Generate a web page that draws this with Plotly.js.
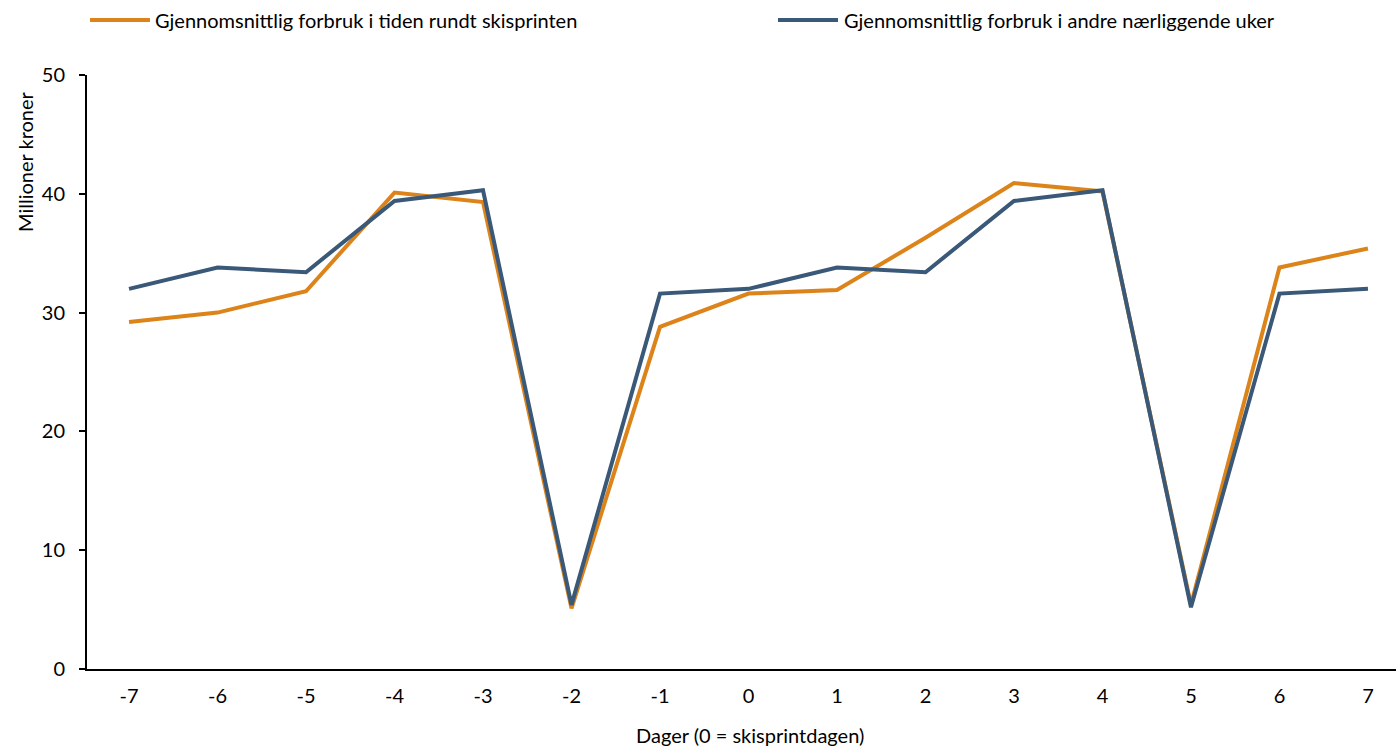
<!DOCTYPE html>
<html>
<head>
<meta charset="utf-8">
<script src="https://cdn.plot.ly/plotly-3.0.1.min.js"></script>
<style>html,body{margin:0;padding:0;background:#fff;}#chart{width:1396px;height:747px;}</style>
</head>
<body>
<div id="chart"></div>
<script>
const days = [-7,-6,-5,-4,-3,-2,-1,0,1,2,3,4,5,6,7];
const rundtSkisprinten = [29.2,30.0,31.8,40.1,39.3,5.1,28.8,31.6,31.9,36.3,40.9,40.2,5.4,33.8,35.4];
const andreUker = [32.0,33.8,33.4,39.4,40.3,5.4,31.6,32.0,33.8,33.4,39.4,40.3,5.2,31.6,32.0];
const seriesNames = ["Gjennomsnittlig forbruk i tiden rundt skisprinten","Gjennomsnittlig forbruk i andre nærliggende uker"];
const seriesColors = ['#DC831A', '#3A5877'];
const yTicks = [0,10,20,30,40,50];

const FONT = "Lato, 'Open Sans', sans-serif";
const FS = 20;
const traces = [
  {x: days, y: rundtSkisprinten, name: seriesNames[0], type: 'scatter', mode: 'lines',
   line: {color: seriesColors[0], width: 4}},
  {x: days, y: andreUker, name: seriesNames[1], type: 'scatter', mode: 'lines',
   line: {color: seriesColors[1], width: 4}}
];
// legend drawn manually (paper coordinates)
const W = 1309, H = 594, L = 87, B = 669;
const px = v => (v - L) / W;
const py = v => (B - v) / H;
const legendPos = [{x0: 90, x1: 150, tx: 153}, {x0: 778, x1: 838, tx: 842}];
const shapes = legendPos.map((p, i) => ({type: 'line', xref: 'paper', yref: 'paper',
  x0: px(p.x0), x1: px(p.x1), y0: py(20), y1: py(20), line: {color: seriesColors[i], width: 4}}));
const annotations = legendPos.map((p, i) => ({text: seriesNames[i], xref: 'paper', yref: 'paper',
  x: px(p.tx), y: py(20), xanchor: 'left', yanchor: 'middle', showarrow: false,
  font: {family: FONT, size: FS, color: '#000'}}));
annotations.push({text: 'Millioner kroner', xref: 'paper', yref: 'paper', x: px(25), y: py(162),
  xanchor: 'center', yanchor: 'middle', textangle: -90, showarrow: false,
  font: {family: FONT, size: FS, color: '#000'}});
annotations.push({text: 'Dager (0 = skisprintdagen)', xref: 'paper', yref: 'paper', x: px(750), y: py(735),
  xanchor: 'center', yanchor: 'middle', showarrow: false,
  font: {family: FONT, size: FS, color: '#000'}});

const layout = {
  width: 1396, height: 747,
  margin: {l: 87, r: 0, t: 75, b: 78},
  paper_bgcolor: '#fff', plot_bgcolor: '#fff',
  font: {family: FONT, size: FS, color: '#000'},
  showlegend: false,
  xaxis: {range: [-7.475, 7.317], tickvals: days, ticktext: days.map(String), showgrid: false,
          zeroline: false, showline: true, linecolor: '#000', linewidth: 2, ticks: '',
          tickfont: {family: FONT, size: FS}, ticklabelstandoff: 8, fixedrange: true},
  yaxis: {range: [0, 50], tickvals: yTicks, showgrid: false, zeroline: false, showline: true,
          linecolor: '#000', linewidth: 2, ticks: 'outside', ticklen: 6, tickwidth: 2, tickcolor: '#000',
          tickfont: {family: FONT, size: FS}, ticklabelstandoff: 10},
  shapes: shapes,
  annotations: annotations
};
Plotly.newPlot('chart', traces, layout, {displayModeBar: false, staticPlot: true});
</script>
</body>
</html>
